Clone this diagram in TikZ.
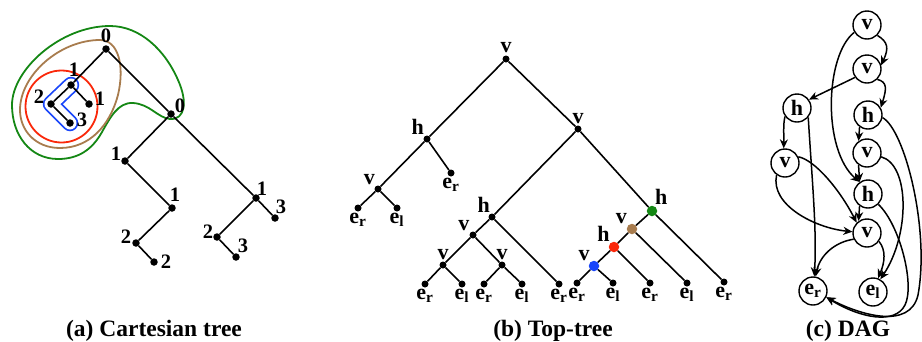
\documentclass[tikz,border=0pt]{standalone}
\usepackage{fontspec}
\setmainfont{Liberation Serif}
\usetikzlibrary{arrows.meta}
\definecolor{cgreen}{RGB}{20,135,20}
\definecolor{cbrown}{RGB}{168,124,78}
\definecolor{cred}{RGB}{250,40,10}
\definecolor{cblue}{RGB}{25,70,250}
\begin{document}
\begin{tikzpicture}[x=1pt,y=-1pt,
  dot/.style={circle,fill=black,inner sep=0pt,minimum size=7.5pt},
  tdot/.style={circle,fill=black,inner sep=0pt,minimum size=7pt},
  cdot/.style={circle,fill=#1,inner sep=0pt,minimum size=10.5pt},
  num/.style={font=\fontsize{20.5}{20.5}\selectfont\bfseries,inner sep=0pt},
  tl/.style={font=\fontsize{22}{22}\selectfont\bfseries,inner sep=1pt},
  edge/.style={line width=1.6pt},
  blob/.style={line width=1.8pt},
  dn/.style={circle,draw,line width=1.4pt,minimum size=28pt,inner sep=0pt,font=\fontsize{22}{22}\selectfont\bfseries},
  arr/.style={line width=1.5pt,-{Stealth[length=9pt,width=8pt]}},
  captext/.style={font=\fontsize{23.5}{23.5}\selectfont\bfseries,inner sep=0pt}
]
\useasboundingbox (0,0) rectangle (922,341);

% ---------- (a) Cartesian tree ----------
\draw[blob,cgreen] (110,26) .. controls (140,26) and (165,50) .. (178,80)
  .. controls (188,102) and (185,120) .. (170,119)
  .. controls (158,118) and (150,104) .. (133,103)
  .. controls (118,102) and (110,118) .. (102,132)
  .. controls (92,150) and (78,159) .. (58,159)
  .. controls (30,159) and (12,135) .. (12,105)
  .. controls (12,70) and (60,26) .. (110,26) -- cycle;
\draw[blob,cbrown] (100,40) .. controls (118,40) and (125,65) .. (118,95)
  .. controls (110,125) and (90,148) .. (60,148)
  .. controls (35,148) and (20,130) .. (20,110)
  .. controls (20,75) and (60,40) .. (100,40) -- cycle;
\draw[blob,cred] (61.5,106.5) circle[radius=36pt];

\coordinate (a1) at (71,85);
\coordinate (a2) at (51,104);
\coordinate (a3) at (70,123);
\draw[cblue,line width=16.5pt,line cap=round,line join=round] (a1) -- (a2) -- (a3);
\draw[white,line width=13pt,line cap=round,line join=round] (a1) -- (a2) -- (a3);

\node[dot] (c0) at (106,49) {};
\node[dot] (c1) at (71,85) {};
\node[dot] (c2) at (51,104) {};
\node[dot] (c3) at (89,104) {};
\node[dot] (c4) at (70,123) {};
\node[dot] (c5) at (171,114) {};
\node[dot] (c6) at (125,161) {};
\node[dot] (c7) at (172,208) {};
\node[dot] (c8) at (136,243) {};
\node[dot] (c9) at (154,262) {};
\node[dot] (c10) at (256,198) {};
\node[dot] (c11) at (275,218) {};
\node[dot] (c12) at (217,237) {};
\node[dot] (c13) at (236,257) {};
\draw[edge] (c0) -- (c1) (c1) -- (c2) (c1) -- (c3) (c2) -- (c4)
  (c0) -- (c5) (c5) -- (c6) (c6) -- (c7) (c7) -- (c8) (c8) -- (c9)
  (c5) -- (c10) (c10) -- (c11) (c10) -- (c12) (c12) -- (c13);

\node[num] (n0) at (106,36) {0};
\node[num] (n1) at (74,70) {1};
\node[num] (n2) at (39,97) {2};
\node[num] (n3) at (100,99) {1};
\node[num] (n4) at (82,120) {3};
\node[num] (n5) at (180,106) {0};
\node[num] (n6) at (116,154) {1};
\node[num] (n7) at (175,195) {1};
\node[num] (n8) at (126,237) {2};
\node[num] (n9) at (166,262) {2};
\node[num] (n10) at (262,189) {1};
\node[num] (n11) at (281,207) {3};
\node[num] (n12) at (208,232) {2};
\node[num] (n13) at (243,246) {3};

\node[captext] (capa) at (154,331) {(a) Cartesian tree};

% ---------- (b) Top-tree ----------
\node[tdot,label={[tl,label distance=1pt]above:v}] (t1) at (506,59) {};
\node[tdot,label={[tl]120:h}] (t2) at (427,139) {};
\node[tdot,label={[tl]below:e\textsubscript{r}}] (t3) at (451,173) {};
\node[tdot,label={[tl]120:v}] (t4) at (378,189) {};
\node[tdot,label={[tl]below:e\textsubscript{r}}] (t5) at (358,208) {};
\node[tdot,label={[tl]below:e\textsubscript{l}}] (t6) at (397,208) {};
\node[tdot,label={[tl]above:v}] (t7) at (578,129) {};
\node[tdot,label={[tl]105:h}] (t8) at (492,217) {};
\node[tdot,label={[tl]130:v}] (t9) at (473,235) {};
\node[tdot,label={[tl]above:v}] (t10) at (443,265) {};
\node[tdot,label={[tl]above:v}] (t11) at (502,265) {};
\node[tdot,label={[tl]below:e\textsubscript{r}}] (t12) at (425,284) {};
\node[tdot,label={[tl]below:e\textsubscript{l}}] (t13) at (462,284) {};
\node[tdot,label={[tl]below:e\textsubscript{r}}] (t14) at (484,284) {};
\node[tdot,label={[tl]below:e\textsubscript{l}}] (t15) at (522,284) {};
\node[tdot,label={[tl]below:e\textsubscript{r}}] (t16) at (559,284) {};
\node[tdot,label={[tl]below:e\textsubscript{r}}] (t17) at (577,283) {};
\node[tdot,label={[tl]below:e\textsubscript{l}}] (t18) at (613,283) {};
\node[tdot,label={[tl]below:e\textsubscript{r}}] (t19) at (650,283) {};
\node[tdot,label={[tl]below:e\textsubscript{l}}] (t20) at (687,283) {};
\node[tdot,label={[tl]below:e\textsubscript{r}}] (t21) at (724,282) {};
\node[cdot=cgreen,label={[tl]70:h}] (tg) at (652,211) {};
\node[cdot=cbrown,label={[tl]135:v}] (tb) at (632,229) {};
\node[cdot=cred,label={[tl]125:h}] (tr) at (614,247) {};
\node[cdot=cblue,label={[tl]125:v}] (tu) at (594,266) {};
\draw[edge] (t1) -- (t2) (t2) -- (t3) (t2) -- (t4) (t4) -- (t5) (t4) -- (t6)
  (t1) -- (t7) (t7) -- (t8) (t8) -- (t9) (t8) -- (t16) (t9) -- (t10) (t9) -- (t11)
  (t10) -- (t12) (t10) -- (t13) (t11) -- (t14) (t11) -- (t15)
  (t7) -- (tg) (tg) -- (t21) (tg) -- (tb) (tb) -- (t20) (tb) -- (tr)
  (tr) -- (t19) (tr) -- (tu) (tu) -- (t17) (tu) -- (t18);

\node[captext] (capb) at (553,331) {(b) Top-tree};

% ---------- (c) DAG ----------
\node[dn] (d1) at (867,25) {v};
\node[dn] (d2) at (867,69) {v};
\node[dn] (d3) at (797,108) {h};
\node[dn] (d4) at (868,115) {h};
\node[dn] (d5) at (785,163) {v};
\node[dn] (d6) at (867,153) {v};
\node[dn] (d7) at (868,194) {h};
\node[dn] (d8) at (867,233) {v};
\node[dn] (d9) at (813,291) {e\textsubscript{r}};
\node[dn] (d10) at (873,292) {e\textsubscript{l}};

\draw[arr] (d1.-45) .. controls (888,42) and (889,48) .. (d2.15);
\draw[arr] (d1.210) .. controls (825,55) and (822,150) .. (d7.125);
\draw[arr] (d2.215) -- (d3.35);
\draw[arr] (d2.-45) .. controls (887,82) and (887,88) .. (d4.30);
\draw[arr] (d3.215) .. controls (783,125) and (784,135) .. (d5.95);
\draw[arr] (d3.-40) .. controls (812,180) and (817,230) .. (d9.85);
\draw[arr] (d4.235) -- (d6.125);
\draw[arr] (d4.-10) .. controls (905,130) and (930,230) .. (918,295)
  .. controls (910,330) and (860,315) .. (d9.-25);
\draw[arr] (d7.-45) .. controls (900,225) and (915,285) .. (905,305)
  .. controls (895,325) and (860,318) .. (d9.-25);
\draw[arr] (d5.25) .. controls (815,160) and (840,190) .. (d8.135);
\draw[arr] (d5.235) .. controls (770,205) and (815,228) .. (d8.175);
\draw[arr] (d7.235) -- (d8.125);
\draw[arr] (d6.235) -- (d7.125);
\draw[arr] (d6.-15) .. controls (910,165) and (910,235) .. (d10.60);
\draw[arr] (d8.-35) .. controls (886,250) and (885,262) .. (d10.70);
\draw[arr] (d8.205) .. controls (835,242) and (820,255) .. (d9.80);

\node[captext] (capc) at (848,331) {(c) DAG};
\end{tikzpicture}
\end{document}
